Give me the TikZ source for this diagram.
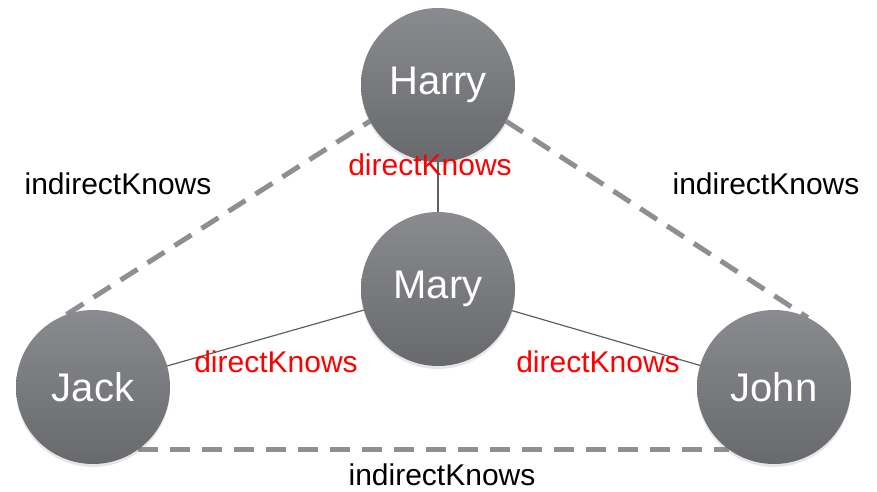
\documentclass[tikz,border=0pt]{standalone}
\usepackage{fontspec}
\setmainfont{Liberation Sans}
\usetikzlibrary{backgrounds,shadows}
\definecolor{dashgray}{HTML}{8E8F92}
\definecolor{circtop}{HTML}{8A8B8F}
\definecolor{circbot}{HTML}{68696D}
\definecolor{linegray}{HTML}{5E5F62}
\tikzset{
  person/.style={circle, minimum size=154pt, inner sep=0pt, top color=circtop, bottom color=circbot, draw=none,
    text=white, font=\fontsize{40}{46}\selectfont,
    drop shadow={opacity=0.2, shadow xshift=0pt, shadow yshift=-3pt}},
  indirect/.style={line width=5pt, dashgray, dash pattern=on 20pt off 12pt},
  direct/.style={line width=1.2pt, linegray},
  redlabel/.style={text=red, font=\fontsize{30}{36}\selectfont, inner sep=0pt},
  blacklabel/.style={text=black, font=\fontsize{30}{36}\selectfont, inner sep=0pt}
}
\begin{document}
\begin{tikzpicture}[x=1pt,y=1pt]
\useasboundingbox (0,0) rectangle (877,491);
\node[person] (harry) at (438,406) {\raisebox{-3pt}{Harry}};
\node[person] (mary) at (438,202) {\raisebox{-3pt}{Mary}};
\node[person] (jack) at (93,104) {Jack};
\node[person] (john) at (774,104) {John};
\begin{scope}[on background layer]
  \draw[indirect] (jack.110) -- (harry.208);
  \draw[indirect] (harry.-28) -- (john.64);
  \draw[indirect] (jack.-54) -- (john.-126);
  \draw[direct] (harry.center) -- (mary.center);
  \draw[direct] (mary.center) -- (jack.center);
  \draw[direct] (mary.center) -- (john.center);
\end{scope}
\node[redlabel] (d1) at (430,326) {directKnows};
\node[redlabel] (d2) at (276,129) {directKnows};
\node[redlabel] (d3) at (598,129) {directKnows};
\node[blacklabel] (i1) at (118,307) {indirectKnows};
\node[blacklabel] (i2) at (766,307) {indirectKnows};
\node[blacklabel] (i3) at (442,16) {indirectKnows};
\end{tikzpicture}
\end{document}
